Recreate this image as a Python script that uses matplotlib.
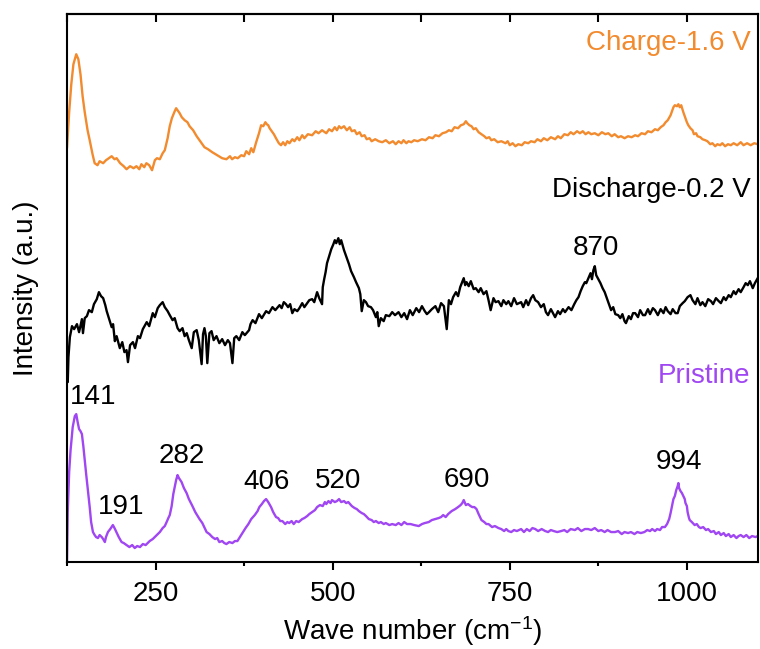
import numpy as np
import matplotlib
matplotlib.use('Agg')
import matplotlib.pyplot as plt
from matplotlib.ticker import MultipleLocator

######################################################
# DATI (intensita' in unita' arbitrarie gia' sfalsate)

charge_x = [125, 128, 131, 134, 138, 141, 144, 147, 150, 154, 157, 161, 164, 168, 171, 176, 180, 184, 188, 192,
            195, 200, 205, 209, 214, 219, 223, 227, 230, 234, 237, 241, 245, 249, 252, 256, 260, 263, 267, 270,
            273, 277, 279, 281, 284, 287, 291, 295, 298, 303, 308, 313, 319, 324, 330, 337, 344, 350, 355, 358,
            362, 366, 371, 375, 378, 382, 385, 388, 392, 396, 399, 402, 405, 407, 409, 411, 413, 417, 420, 424,
            427, 430, 433, 436, 439, 443, 446, 450, 453, 457, 460, 465, 471, 476, 480, 485, 491, 495, 499, 503,
            506, 509, 512, 516, 520, 524, 527, 531, 534, 538, 541, 545, 548, 552, 555, 560, 565, 570, 575, 580,
            585, 589, 593, 597, 600, 604, 607, 611, 615, 620, 626, 631, 636, 641, 645, 650, 655, 660, 664, 668,
            672, 677, 681, 685, 688, 690, 693, 696, 699, 702, 706, 710, 714, 717, 721, 724, 728, 733, 738, 744,
            747, 750, 754, 758, 762, 767, 771, 776, 780, 785, 789, 794, 798, 803, 808, 814, 818, 822, 827, 832,
            836, 840, 845, 849, 853, 857, 861, 865, 870, 875, 880, 885, 889, 894, 898, 903, 907, 912, 917, 922,
            927, 931, 936, 941, 945, 950, 955, 959, 963, 967, 970, 973, 977, 979, 981, 983, 986, 988, 990, 992,
            995, 998, 1000, 1002, 1005, 1008, 1010, 1013, 1015, 1019, 1022, 1026, 1029, 1033, 1036, 1040, 1043,
            1047, 1050, 1054, 1058, 1062, 1066, 1071, 1076, 1080, 1085, 1090, 1095, 1100]
charge_y = [415, 450, 478, 498, 508, 503, 488, 466, 450, 432, 422, 408, 399, 397, 401, 399, 402, 404, 406, 403,
            404, 399, 396, 393, 396, 394, 396, 393, 398, 395, 399, 397, 392, 402, 404, 403, 409, 412, 424, 436,
            444, 451, 454, 452, 449, 445, 442, 440, 436, 432, 426, 421, 415, 413, 410, 407, 404, 403, 406, 403,
            405, 404, 407, 406, 411, 408, 414, 410, 420, 429, 437, 436, 440, 438, 437, 434, 432, 428, 424, 419,
            417, 420, 417, 421, 419, 423, 421, 425, 422, 427, 424, 428, 427, 431, 429, 432, 429, 433, 431, 435,
            432, 436, 434, 436, 432, 435, 431, 432, 428, 430, 426, 427, 423, 424, 421, 423, 421, 420, 422, 419,
            421, 418, 421, 419, 422, 419, 421, 420, 422, 421, 423, 422, 425, 424, 427, 426, 429, 430, 432, 431,
            435, 434, 437, 438, 441, 439, 437, 436, 433, 434, 430, 428, 426, 424, 425, 422, 423, 420, 421, 419,
            421, 417, 419, 416, 418, 417, 420, 419, 421, 420, 423, 421, 424, 422, 425, 423, 426, 424, 428, 427,
            430, 428, 431, 429, 431, 428, 430, 428, 429, 427, 430, 428, 429, 426, 428, 425, 426, 424, 426, 425,
            427, 426, 429, 428, 431, 430, 433, 432, 435, 437, 440, 442, 447, 451, 455, 457, 456, 458, 455, 457,
            450, 444, 440, 437, 434, 432, 428, 429, 426, 425, 423, 422, 421, 418, 419, 416, 418,
            417, 419, 416, 418, 417, 419, 417, 420, 417, 419, 417, 419, 418]

discharge_x = [125, 126, 127, 129, 132, 135, 139, 142, 146, 147.5, 150, 153, 156, 160, 163, 167, 170, 173, 176, 179,
               181, 184, 188, 190, 192.5, 195, 199.5, 203, 206, 209, 211, 214, 218, 221, 225, 228, 232, 237.5, 241, 246,
               249, 253, 256, 260, 263, 267, 270, 274, 277, 281, 284, 288, 291, 294, 297, 301, 304, 308, 311, 315,
               317, 319, 321, 323, 326, 329, 332, 336, 340, 344, 348, 352, 355, 358.5, 361, 364, 368, 372.5, 376, 382,
               384, 387, 391, 396, 400, 406, 410, 415, 419, 425, 428, 431, 434, 437, 440, 443, 446, 450, 453, 457,
               460, 463, 467, 471, 474, 478, 481, 485, 486, 488, 490, 492, 495, 498, 501, 503, 505, 508, 510, 512,
               514, 516, 519, 523, 526, 530, 533, 537, 539, 541, 544, 547, 550, 554, 557, 561, 563, 565, 568, 572,
               575, 580, 584, 588, 593, 597, 601, 605, 609, 613, 618, 622, 626, 630, 633, 636, 640, 645, 649, 653,
               657, 661, 664, 667, 670, 674, 677, 680, 685, 687, 689, 692, 695, 699, 702, 706, 709, 713, 717, 720,
               723, 727, 730, 734, 738, 741, 745, 748, 752, 756, 760, 766, 769, 773, 776, 780, 783, 786, 790, 794,
               798, 801, 804, 808, 811, 814, 818, 821, 825, 828, 833, 837, 841, 844, 847, 850, 853, 856, 858, 861,
               864, 866, 868, 870, 872, 875, 878, 881, 884, 887, 890, 893, 896, 899, 903, 906, 909, 912, 914, 918,
               921, 924, 927, 931, 934, 938, 941, 945, 948, 952, 955, 959, 963, 967, 970, 973, 977, 980, 984, 987,
               990, 994, 997, 1001, 1005, 1008, 1012, 1015, 1019, 1022, 1026, 1030, 1034, 1037, 1041, 1045, 1048,
               1052, 1055, 1059, 1062, 1066, 1069, 1073, 1076, 1080, 1083, 1086, 1089, 1093, 1096, 1100]
discharge_y = [192, 180, 205, 225, 236, 233, 238, 230, 243, 229, 244, 246, 252, 250, 258, 263, 270, 266, 264, 257,
               251, 244, 235, 238, 221, 226, 214, 220, 210, 212, 200, 217, 220, 214, 226, 224, 233, 240, 236, 249,
               245, 254, 257, 260, 255, 251, 247, 242, 244, 234, 231, 234, 226, 229, 222, 214, 230, 232, 222, 198,
               228, 234, 226, 199, 229, 231, 222, 226, 219, 223, 217, 222, 219, 199, 224, 226, 222, 230, 227, 232,
               238, 242, 239, 248, 244, 251, 249, 255, 252, 257, 254, 260, 258, 255, 258, 249, 253, 251, 254, 259,
               255, 258, 262, 263, 260, 270, 264, 258, 275, 283, 290, 299, 306, 313, 318, 322, 319, 324, 318, 322,
               317, 312, 306, 298, 291, 285, 280, 274, 268, 251, 262, 260, 256, 255, 252, 245, 250, 236, 244, 241,
               247, 246, 250, 247, 250, 245, 249, 243, 252, 247, 254, 250, 256, 251, 248, 250, 253, 256, 250, 259,
               256, 233, 262, 258, 265, 270, 266, 275, 284, 277, 280, 276, 281, 273, 274, 270, 274, 268, 271, 262,
               252, 264, 260, 261, 256, 262, 258, 261, 256, 264, 258, 260, 255, 262, 257, 264, 267, 262, 260, 255,
               258, 250, 247, 253, 249, 245, 251, 248, 253, 250, 255, 252, 258, 262, 265, 271, 276, 280, 279, 284,
               289, 283, 292, 296, 287, 283, 279, 274, 270, 264, 258, 252, 255, 248, 247, 244, 248, 241, 239, 246,
               243, 249, 249, 245, 252, 247, 247, 253, 248, 254, 252, 247, 253, 249, 255, 251, 248, 253, 249, 249,
               256, 259, 261, 265, 267, 262, 258, 264, 257, 260, 256, 263, 261, 258, 264, 261, 259,
               265, 262, 267, 265, 271, 268, 273, 270, 275, 279, 277, 281, 274, 279, 284]

pristine_x = [125, 126, 128, 130, 133, 136, 138, 140, 142, 144, 146, 148, 150, 152, 154.5, 157, 159, 161.6, 164, 166,
              168.6, 171, 174, 176, 178.4, 180, 182.7, 186, 189.7, 192, 195.3, 198, 202, 205, 209, 213, 217, 220.6,
              224, 228, 232, 236, 241.7, 246, 251.6, 256, 260, 263, 265.6, 268, 270, 272.7, 275, 277, 279, 281,
              283, 286.7, 290, 293.8, 297, 302, 306, 312, 316, 320, 322, 326, 330, 334, 337, 340, 344, 347, 350,
              354, 358.5, 362, 365.5, 369, 372.5, 377, 381, 385, 390, 394, 396.5, 400, 403, 406, 409, 413, 416,
              420, 423, 426, 429, 433, 436, 438.6, 442, 445, 448.5, 452, 457, 460, 464, 467, 471, 475, 478, 482,
              486, 489, 491, 494, 497, 499, 503, 506, 509, 512, 516, 519, 522, 527, 531, 534, 537, 541, 544, 547,
              551, 555, 558, 561, 565, 568, 572, 575, 580, 584, 589, 593, 597, 601, 605, 610, 615, 621.5, 626, 630,
              635.6, 640, 645, 649.6, 653, 656, 659.5, 663, 668, 673, 677, 680.6, 683, 685, 688, 691, 694.6, 697,
              700, 703, 706, 710, 714, 717, 720, 725, 729, 734, 738, 742, 745, 748, 752, 756, 760, 766, 770, 774,
              778, 782, 786, 790, 795, 800, 804, 808, 812, 817, 822.6, 827, 831, 836, 842, 846, 851, 856, 860.6,
              865, 870, 875, 879, 884, 888, 893, 898.6, 903, 908, 912, 917, 921, 926, 930, 935, 940, 944, 948, 951,
              955, 958, 962, 965, 969, 972, 975, 977, 979, 981, 983, 985, 987, 988, 989, 991, 993, 995, 997, 998,
              1000, 1001, 1003, 1004, 1007, 1011, 1014, 1017, 1019.5, 1023, 1027, 1030, 1034, 1038, 1041, 1045,
              1048, 1052, 1055, 1059, 1062, 1066, 1070, 1073, 1076, 1080, 1084, 1088, 1092, 1097, 1100]
pristine_y = [2, 50, 90, 112, 135, 146, 148, 140, 133, 131, 128, 116, 102, 88, 72, 55, 40, 30, 27, 25,
              24, 27, 25, 23, 20, 25, 30, 33, 37, 34, 29, 25, 20, 19, 17, 15, 17, 14,
              16, 15, 18, 17, 21, 23, 27, 30, 34, 36, 40, 44, 47, 56, 68, 75, 82, 87,
              84, 80, 74, 69, 63, 56, 50, 43, 39, 33, 30, 28, 25, 23, 24, 20, 21, 19, 18,
              20, 19, 21, 21, 25, 29, 34, 38, 43, 47, 51, 55, 58, 61, 63, 60, 55, 50,
              45, 44, 41, 41, 38, 40, 39, 41, 38, 41, 40, 43, 44, 46, 48, 50, 52, 55, 57,
              56, 60, 58, 61, 59, 62, 60, 61, 63, 60, 61, 59, 60, 56, 54, 53, 51, 49, 48, 46,
              43, 42, 40, 41, 39, 40, 38, 39, 37, 38, 37, 39, 37, 40, 38, 38, 37, 36, 38, 39,
              40, 42, 43, 44, 45, 47, 45, 48, 51, 53, 55, 57, 59, 62, 57, 58, 56, 55,
              55, 53, 48, 42, 40, 38, 38, 35, 36, 34, 33, 31, 33, 31, 30, 32, 31, 33, 30, 33,
              31, 34, 33, 31, 33, 31, 30, 32, 31, 30, 31, 32, 30, 33, 32, 34, 31, 33, 33,
              32, 34, 31, 32, 30, 32, 30, 30, 31, 28, 30, 29, 30, 28, 30, 29, 30, 32, 31, 33,
              31, 33, 32, 35, 35, 38, 43, 49, 56, 63, 66, 72, 76, 79, 74, 71, 69, 66, 63, 59,
              56, 50, 44, 42, 40, 37, 38, 35, 34, 35, 32, 33, 30, 31, 28, 30,
              27, 29, 26, 28, 25, 27, 24, 26, 27, 25, 27, 24, 26, 25, 26]

# etichette dei picchi
peak_labels = ['141', '191', '282', '406', '520', '690', '994']
peak_x = [162, 201, 287, 406, 508, 689, 989]
peak_y = [165, 55, 106, 80, 81, 82, 100]

######################################################
# STILE

plt.rcParams['font.family'] = ['Liberation Sans', 'DejaVu Sans']
plt.rcParams['mathtext.default'] = 'regular'
plt.rcParams['font.size'] = 20

col_charge = '#F28A2E'
col_discharge = '#000000'
col_pristine = '#A046F2'

fig = plt.figure(figsize=(7.6, 6.49), dpi=100)
ax = fig.add_axes([0.0882, 0.134, 0.9088, 0.844])

ax.plot(charge_x, charge_y, color=col_charge, lw=1.7)
ax.plot(discharge_x, discharge_y, color=col_discharge, lw=1.7)
ax.plot(pristine_x, pristine_y, color=col_pristine, lw=1.7)

ax.text(1090, 519, 'Charge-1.6 V', color=col_charge, ha='right', va='center', fontsize=20)
ax.text(1090, 372, 'Discharge-0.2 V', color=col_discharge, ha='right', va='center', fontsize=20)
ax.text(1090, 186, 'Pristine', color=col_pristine, ha='right', va='center', fontsize=20)
ax.text(871, 314, '870', ha='center', va='center', fontsize=20)
for lab, px, py in zip(peak_labels, peak_x, peak_y):
    ax.text(px, py, lab, ha='center', va='center', fontsize=20)

ax.set_xlim(125, 1100)
ax.set_ylim(0, 548)
ax.set_yticks([])
ax.xaxis.set_major_locator(MultipleLocator(250))
ax.xaxis.set_minor_locator(MultipleLocator(125))
ax.tick_params(axis='x', which='major', direction='out', length=6, width=1.5, labelsize=20, pad=8)
ax.tick_params(axis='x', which='minor', direction='out', length=3, width=1.5)

# tick superiori verso l'interno
top = ax.secondary_xaxis('top')
top.xaxis.set_major_locator(MultipleLocator(250))
top.xaxis.set_minor_locator(MultipleLocator(125))
top.tick_params(which='both', direction='in', length=6, width=1.5, labeltop=False)

for s in ax.spines.values():
    s.set_linewidth(1.5)
top.spines['top'].set_linewidth(1.5)

ax.set_xlabel('Wave number (cm$^{-1}$)', fontsize=20, labelpad=5)
ax.set_ylabel('Intensity (a.u.)', fontsize=20, labelpad=20)

fig.savefig('out.png', dpi=100)
